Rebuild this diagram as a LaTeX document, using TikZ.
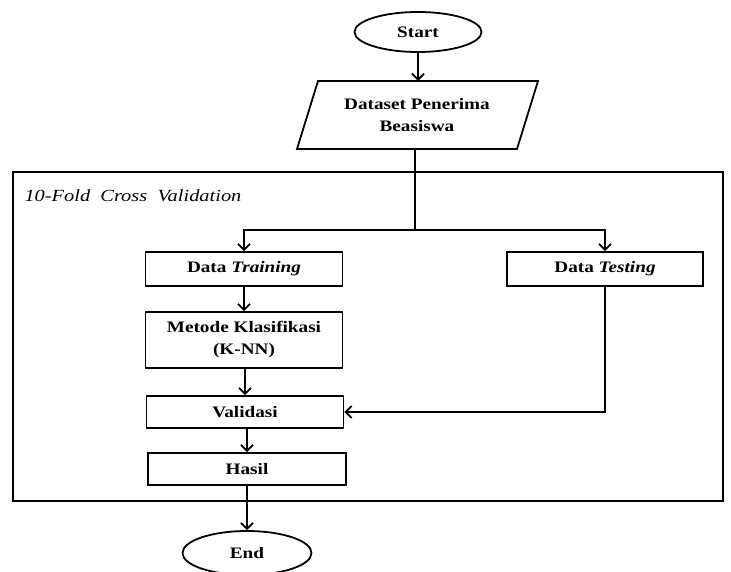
\documentclass[tikz,border=0pt]{standalone}
\usepackage{fontspec}
\setmainfont[FakeStretch=1.2]{Liberation Serif}
\usetikzlibrary{shapes.geometric,arrows.meta}
\tikzset{
  line/.style={line width=1.8pt},
  arr/.style={line, -{Straight Barb[length=6pt,width=12pt,line width=1.8pt]}},
  boxfont/.style={font=\bfseries\fontsize{16}{18}\selectfont},
  procbox/.style={draw, line width=1.8pt, rectangle, align=center, boxfont, inner sep=0pt},
  term/.style={draw, line width=1.8pt, ellipse, boxfont, inner sep=0pt},
  textonly/.style={align=center, boxfont, inner sep=0pt}
}
\begin{document}
\begin{tikzpicture}[x=1pt,y=-1pt]
\useasboundingbox (0,0) rectangle (731,572);
\fill[white] (0,0) rectangle (731,572);

% validation frame
\draw[line] (13,172) rectangle (723,501);
\node[anchor=base west, font=\itshape\fontsize{17}{19}\selectfont] (cvlabel) at (21,202) {10-Fold\ \ Cross\ \ Validation};

% terminals
\node[term, minimum width=127pt, minimum height=40pt] (start) at (418,32) {Start};
\node[term, minimum width=129pt, minimum height=44pt] (end) at (247,553) {End};

% input: parallelogram drawn around a text node
\node[textonly, minimum width=200pt, minimum height=68pt, font=\bfseries\fontsize{16}{22}\selectfont] (data) at (417,115) {Dataset Penerima\\Beasiswa};
\draw[line, line join=miter] (318,81) -- (538,81) -- (517,149) -- (297,149) -- cycle;

% process boxes
\node[procbox, minimum width=197pt, minimum height=34pt] (train) at (244,269) {Data \textit{Training}};
\node[procbox, minimum width=196pt, minimum height=34pt] (test) at (605,269) {Data \textit{Testing}};
\node[procbox, minimum width=197pt, minimum height=56pt, font=\bfseries\fontsize{16}{22}\selectfont] (knn) at (244,340) {Metode Klasifikasi\\(K-NN)};
\node[procbox, minimum width=197pt, minimum height=32pt] (valid) at (245,412) {Validasi};
\node[procbox, minimum width=198pt, minimum height=32pt] (hasil) at (247,469) {Hasil};

% connectors
\coordinate (split) at (415,230);
\draw[arr] (start.south) -- (start.south |- 0,81);
\draw[line] (split |- 0,149) -- (split);
\draw[arr] (split) -| (train.north);
\draw[arr] (split) -| (test.north);
\draw[arr] (train) -- (knn);
\draw[arr] (knn.south -| valid.north) -- (valid.north);
\draw[arr] (test.south) |- (valid.east);
\draw[arr] (valid.south -| hasil.north) -- (hasil.north);
\draw[arr] (hasil.south) -- (end.north);
\end{tikzpicture}
\end{document}
